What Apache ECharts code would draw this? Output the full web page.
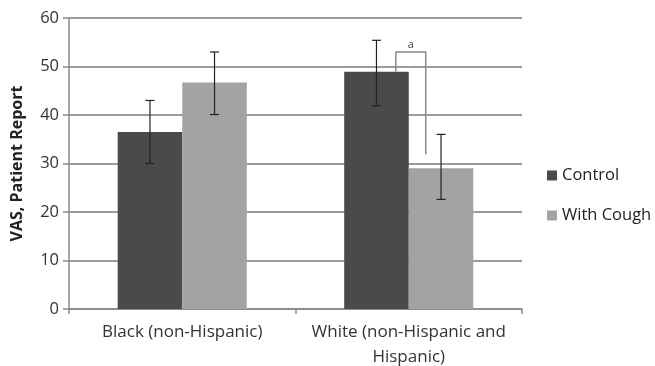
<!DOCTYPE html>
<html>
<head>
<meta charset="utf-8">
<script src="https://cdn.jsdelivr.net/npm/echarts@6/dist/echarts.min.js"></script>
<style>html,body{margin:0;padding:0;background:#fff}#c{width:655px;height:366px}</style>
</head>
<body>
<div id="c"></div>
<script>
var categories = ['Black (non-Hispanic)', 'White (non-Hispanic and\nHispanic)'];
var seriesNames = ['Control', 'With Cough'];
var controlValues = [36.5, 48.9];
var coughValues = [46.7, 29.0];
var controlErrLow = [30.0, 41.9];
var controlErrHigh = [43.0, 55.4];
var coughErrLow = [40.1, 22.6];
var coughErrHigh = [53.0, 36.0];
// significance bracket: category index, left leg bottom, bracket top, right leg bottom
var bracket = [[1, 48.9, 53.0, 31.9]];
var bracketLabel = 'a';
var yTicks = [0, 10, 20, 30, 40, 50, 60];

var FONT = '"Open Sans", "Noto Sans", sans-serif';
var CAT_GAP = 0.43;
var barFrac = (1 - CAT_GAP) / 2;

function errSeries(name, lows, highs, sign) {
  return {
    type: 'custom',
    name: name + ' err',
    z: 5,
    silent: true,
    data: lows.map(function (l, i) { return [i, l, highs[i]]; }),
    renderItem: function (params, api) {
      var band = api.size([1, 0])[0];
      var c = api.coord([api.value(0), 0]);
      var x = c[0] + sign * band * barFrac / 2;
      var lo = api.coord([api.value(0), api.value(1)])[1];
      var hi = api.coord([api.value(0), api.value(2)])[1];
      var w = 4.5;
      var st = { stroke: '#222', lineWidth: 1.2 };
      return { type: 'group', children: [
        { type: 'line', shape: { x1: x, y1: lo, x2: x, y2: hi }, style: st },
        { type: 'line', shape: { x1: x - w, y1: lo, x2: x + w, y2: lo }, style: st },
        { type: 'line', shape: { x1: x - w, y1: hi, x2: x + w, y2: hi }, style: st }
      ]};
    }
  };
}

var chart = echarts.init(document.getElementById('c'));
chart.setOption({
  animation: false,
  backgroundColor: '#fff',
  textStyle: { fontFamily: FONT },
  grid: { left: 69, right: 133, top: 18, bottom: 57, outerBoundsMode: 'none', containLabel: false },
  legend: {
    orient: 'vertical',
    left: 542,
    top: 162,
    itemWidth: 10,
    itemHeight: 10,
    itemGap: 23,
    icon: 'rect',
    data: seriesNames,
    textStyle: { fontFamily: FONT, fontSize: 16.5, color: '#222' }
  },
  xAxis: {
    type: 'category',
    data: categories,
    axisLine: { lineStyle: { color: '#8a8a8a', width: 1.5 } },
    axisTick: { show: true, length: 5, alignWithLabel: false, lineStyle: { color: '#8a8a8a', width: 1.5 } },
    axisLabel: { interval: 0, hideOverlap: false, fontFamily: FONT, fontSize: 17, color: '#333', margin: 11, lineHeight: 25 }
  },
  yAxis: {
    type: 'value',
    min: 0,
    max: 60,
    interval: 10,
    name: 'VAS, Patient Report',
    nameLocation: 'middle',
    nameGap: 44,
    nameTextStyle: { fontFamily: FONT, fontSize: 16, fontWeight: 'bold', color: '#222' },
    axisLine: { show: true, lineStyle: { color: '#8a8a8a', width: 1.5 } },
    axisTick: { show: true, length: 6, lineStyle: { color: '#8a8a8a', width: 1.5 } },
    axisLabel: { fontFamily: FONT, fontSize: 16.5, color: '#333', margin: 10,
      formatter: function (v) { return yTicks.indexOf(v) >= 0 ? String(v) : ''; } },
    splitLine: { lineStyle: { color: '#7a7a7a', width: 1.5 } }
  },
  series: [
    { type: 'bar', name: seriesNames[0], data: controlValues, barGap: '0%', barCategoryGap: (CAT_GAP * 100) + '%',
      itemStyle: { color: '#4a4a4a' }, z: 2 },
    { type: 'bar', name: seriesNames[1], data: coughValues, barGap: '0%', barCategoryGap: (CAT_GAP * 100) + '%',
      itemStyle: { color: '#a3a3a3' }, z: 2 },
    errSeries(seriesNames[0], controlErrLow, controlErrHigh, -1),
    errSeries(seriesNames[1], coughErrLow, coughErrHigh, 1),
    {
      type: 'custom',
      name: 'bracket',
      z: 6,
      silent: true,
      data: bracket,
      renderItem: function (params, api) {
        var band = api.size([1, 0])[0];
        var cx = api.coord([api.value(0), 0])[0];
        var xl = cx - band * 0.057;
        var xr = cx + band * 0.075;
        var yl = api.coord([api.value(0), api.value(1)])[1];
        var yt = api.coord([api.value(0), api.value(2)])[1];
        var yr = api.coord([api.value(0), api.value(3)])[1];
        var st = { stroke: '#8a8a8a', lineWidth: 1.5, fill: null };
        return { type: 'group', children: [
          { type: 'polyline', shape: { points: [[xl, yl], [xl, yt], [xr, yt], [xr, yr]] }, style: st },
          { type: 'text', style: { text: bracketLabel, x: (xl + xr) / 2, y: yt - 2, textAlign: 'center', textVerticalAlign: 'bottom',
            fontFamily: FONT, fontSize: 11, fill: '#444' } }
        ]};
      }
    }
  ]
});
</script>
</body>
</html>
